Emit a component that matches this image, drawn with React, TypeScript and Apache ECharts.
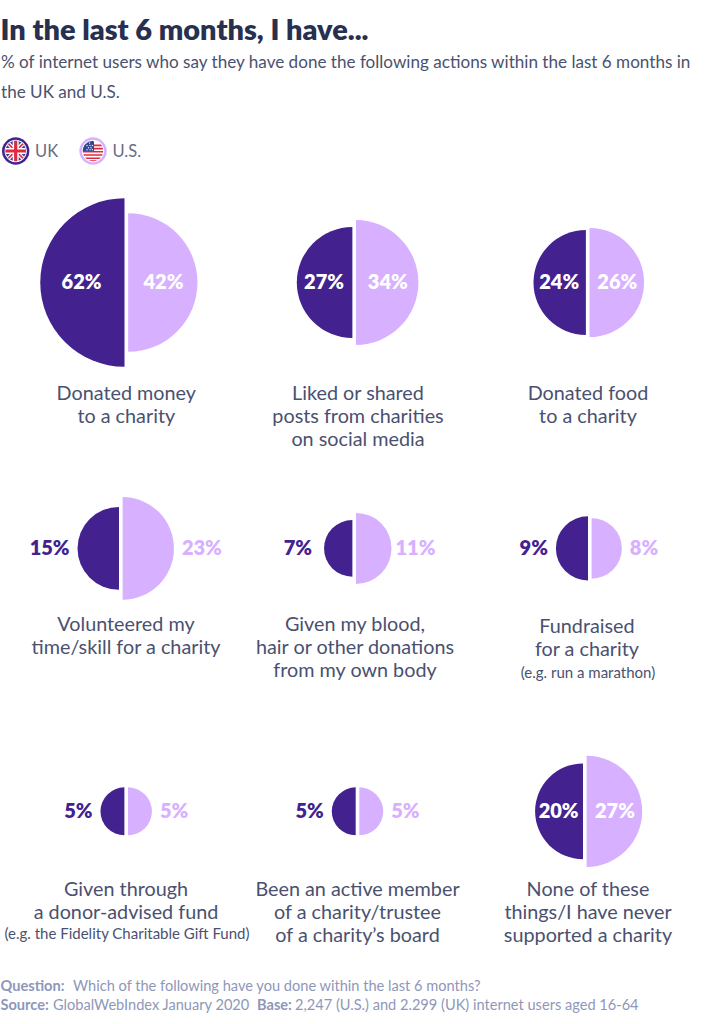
import React, { useEffect, useRef } from "react";
import * as echarts from "echarts";

const FONT = "Lato, 'Open Sans', sans-serif";
const DARK = "#432290";
const LIGHT = "#d7b1ff";
const INK = "#4a5170";

const titleText = "In the last 6 months, I have...";
const subtitleLines = [
  "% of internet users who say they have done the following actions within the last 6 months in",
  "the UK and U.S.",
];

const panelIds = [0, 1, 2, 3, 4, 5, 6, 7, 8];
const ukValues = [62, 27, 24, 15, 7, 9, 5, 5, 20];
const usValues = [42, 34, 26, 23, 11, 8, 5, 5, 27];
const captions = [
  ["Donated money", "to a charity"],
  ["Liked or shared", "posts from charities", "on social media"],
  ["Donated food", "to a charity"],
  ["Volunteered my", "time/skill for a charity"],
  ["Given my blood,", "hair or other donations", "from my own body"],
  ["Fundraised", "for a charity"],
  ["Given through", "a donor-advised fund"],
  ["Been an active member", "of a charity/trustee", "of a charity\u2019s board"],
  ["None of these", "things/I have never", "supported a charity"],
];
const captionNotes: Record<number, string> = {
  5: "(e.g. run a marathon)",
  6: "(e.g. the Fidelity Charitable Gift Fund)",
};

// layout (pixels), kept apart from the values
const centres = [
  [126.3, 282.5], [354.2, 282.5], [587.7, 282.5],
  [120.8, 548.4], [354.2, 548.4], [589.8, 548.4],
  [126.2, 811.3], [357.5, 811.3], [584.8, 811.3],
];
const captionPos = [
  [126.3, 392], [358, 392], [588, 392],
  [126, 623], [355, 623], [587, 625],
  [126, 888], [357.5, 888], [588, 888],
];
const panelsWithInnerLabels = [0, 1, 2, 8];
const outsideGap: Record<number, [number, number]> = { 4: [12, 4] };
const RADIUS_K = 10.7;
const HALF_GAP = 1.8;
const radiusOf = (v: number) => RADIUS_K * Math.sqrt(v);

function halfRenderer(side: -1 | 1, colour: string) {
  return (_params: any, api: any) => {
    const idx = api.value(0) as number;
    const value = api.value(1) as number;
    const [cx, cy] = centres[idx];
    const r = radiusOf(value);
    const sx = cx + side * HALF_GAP;
    const inside = panelsWithInnerLabels.includes(idx);
    const gap = outsideGap[idx] ? outsideGap[idx][side < 0 ? 0 : 1] : 8;
    const tx = inside ? sx + side * r * 0.51 : sx + side * (r + gap);
    return {
      type: "group",
      children: [
        {
          type: "sector",
          shape: {
            cx: sx,
            cy,
            r0: 0,
            r,
            startAngle: side < 0 ? Math.PI / 2 : -Math.PI / 2,
            endAngle: side < 0 ? (3 * Math.PI) / 2 : Math.PI / 2,
            clockwise: true,
          },
          style: { fill: colour },
        },
        {
          type: "text",
          style: {
            text: `${value}%`,
            x: tx,
            y: cy - 1.8,
            fill: inside ? "#ffffff" : colour,
            font: `800 20px ${FONT}`,
            align: inside ? "center" : side < 0 ? "right" : "left",
            verticalAlign: "middle",
          },
        },
      ],
    };
  };
}

// a horizontal band of a disc, optionally cut at x <= xMax, rotated by rot
function band(cx: number, cy: number, r: number, a: number, b: number, rot = 0, xMax = Infinity) {
  const lo = Math.max(a, -r);
  const hi = Math.min(b, r);
  const n = 10;
  const left: number[][] = [];
  const right: number[][] = [];
  for (let i = 0; i <= n; i++) {
    const y = lo + ((hi - lo) * i) / n;
    const w = Math.sqrt(Math.max(0, r * r - y * y));
    left.push([-w, y]);
    right.push([Math.min(w, xMax), y]);
  }
  const pts = [...left, ...right.reverse()].map(([x, y]) => [
    cx + x * Math.cos(rot) - y * Math.sin(rot),
    cy + x * Math.sin(rot) + y * Math.cos(rot),
  ]);
  return pts;
}
const poly = (points: number[][], fill: string) => ({ type: "polygon", shape: { points }, style: { fill } });
const disc = (cx: number, cy: number, r: number, fill: string) => ({ type: "circle", shape: { cx, cy, r }, style: { fill } });

function ukFlag(cx: number, cy: number) {
  const r = 10.2;
  const D = Math.PI / 4;
  return [
    disc(cx, cy, 13.7, DARK),
    disc(cx, cy, 11.2, "#ffffff"),
    disc(cx, cy, r, "#2d4a9c"),
    poly(band(cx, cy, r, -2, 2, D), "#ffffff"),
    poly(band(cx, cy, r, -2, 2, -D), "#ffffff"),
    poly(band(cx, cy, r, -0.8, 0.8, D), "#e0293f"),
    poly(band(cx, cy, r, -0.8, 0.8, -D), "#e0293f"),
    poly(band(cx, cy, r, -3, 3), "#ffffff"),
    poly(band(cx, cy, r, -3, 3, Math.PI / 2), "#ffffff"),
    poly(band(cx, cy, r, -1.6, 1.6), "#e0293f"),
    poly(band(cx, cy, r, -1.6, 1.6, Math.PI / 2), "#e0293f"),
  ];
}
function usFlag(cx: number, cy: number) {
  const r = 10.2;
  const stripes = [-6.4, -3.2, 0, 3.2, 6.4, 9.2];
  const stars = [[-6, -5.5], [-3, -5.5], [-0.6, -5.5], [-4.5, -3.2], [-2, -3.2], [-6, -1.2], [-3, -1.2], [-0.6, -1.2], [-3.5, -8]];
  return [
    disc(cx, cy, 13.7, LIGHT),
    disc(cx, cy, 11.2, "#ffffff"),
    disc(cx, cy, r, "#ffffff"),
    ...stripes.map((y) => poly(band(cx, cy, r, y, y + 1.6), "#e0293f")),
    poly(band(cx, cy, r, -r, 0.3, 0, 1), "#33478f"),
    ...stars.map(([x, y]) => disc(cx + x, cy + y, 0.6, "#ffffff")),
  ];
}

const txt = (text: string, x: number, y: number, size: number, fill: string, align = "center", weight = "400") => ({
  type: "text",
  style: { text, x, y, fill, font: `${weight} ${size}px ${FONT}`, align, verticalAlign: "middle" },
  silent: true,
});

function buildGraphics() {
  const g: any[] = [
    txt(titleText, 0.5, 28, 28.9, "#27304f", "left", "800"),
    txt(subtitleLines[0], 1, 61, 17.1, INK, "left"),
    txt(subtitleLines[1], 1, 91, 17.1, INK, "left"),
    ...ukFlag(15.7, 151),
    txt("UK", 35, 150.5, 16.5, "#666d88", "left"),
    ...usFlag(93, 151),
    txt("U.S.", 112.5, 150.5, 16.5, "#666d88", "left"),
  ];
  captions.forEach((lines, i) => {
    const [x, y] = captionPos[i];
    lines.forEach((line, j) => g.push(txt(line, x, y + j * 23, 19.8, INK)));
    if (captionNotes[i]) g.push(txt(captionNotes[i], x + 1, y + lines.length * 23 - (i === 5 ? -1 : 1), 15, INK));
  });
  const FOOT = "#8e97ba";
  g.push(
    txt("Question:", 0.5, 985, 14.6, FOOT, "left", "700"),
    txt("Which of the following have you done within the last 6 months?", 73, 985, 14.6, FOOT, "left"),
    txt("Source:", 0.5, 1004, 14.6, FOOT, "left", "700"),
    txt("GlobalWebIndex January 2020", 53, 1004, 14.6, FOOT, "left"),
    txt("Base:", 257, 1004, 14.6, FOOT, "left", "700"),
    txt("2,247 (U.S.) and 2.299 (UK) internet users aged 16-64", 295, 1004, 14.6, FOOT, "left"),
  );
  return g;
}

export default function App() {
  const ref = useRef<HTMLDivElement>(null);
  useEffect(() => {
    document.body.style.margin = "0";
    const chart = echarts.init(ref.current!, undefined, { renderer: "svg" });
    chart.setOption({
      animation: false,
      backgroundColor: "#ffffff",
      series: [
        {
          type: "custom",
          name: "UK",
          coordinateSystem: "none",
          silent: true,
          data: panelIds.map((p) => [p, ukValues[p]]),
          renderItem: halfRenderer(-1, DARK),
        },
        {
          type: "custom",
          name: "U.S.",
          coordinateSystem: "none",
          silent: true,
          data: panelIds.map((p) => [p, usValues[p]]),
          renderItem: halfRenderer(1, LIGHT),
        },
      ],
      graphic: { elements: buildGraphics() },
    });
    return () => chart.dispose();
  }, []);
  return <div ref={ref} style={{ width: 715, height: 1024 }} />;
}
